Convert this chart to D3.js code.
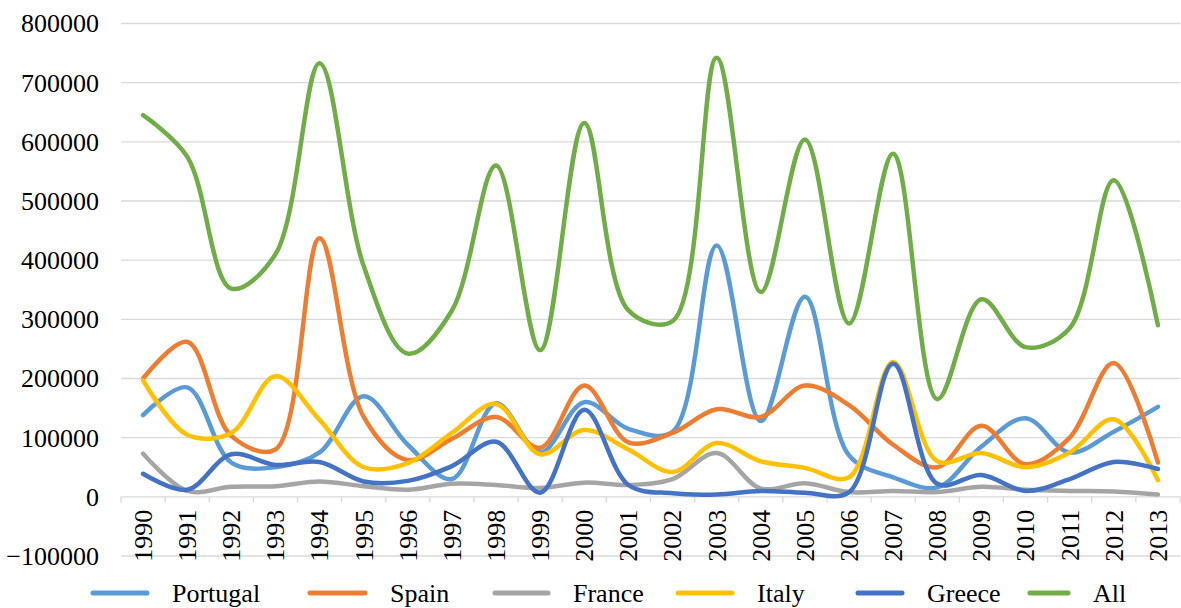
<!DOCTYPE html>
<html>
<head>
<meta charset="utf-8">
<script src="https://cdn.jsdelivr.net/npm/d3@7"></script>
<style>
    body { margin: 0; background: #fff; }
    svg text { font-family: "Liberation Serif", "Times New Roman", Times, serif; fill: #000; }
</style>
</head>
<body>
<div id="chart"></div>
<script>
// categories and series
const years = ["1990", "1991", "1992", "1993", "1994", "1995", "1996", "1997", "1998", "1999", "2000", "2001",
    "2002", "2003", "2004", "2005", "2006", "2007", "2008", "2009", "2010", "2011", "2012", "2013"];

const portugal = [138000, 185000, 58000, 50000, 75000, 170000, 88000, 30000, 158000, 75000, 160000, 115000,
    110000, 425000, 128000, 338000, 70000, 33000, 16000, 85000, 133000, 75000, 110000, 152000];
const spain = [200000, 262000, 103000, 80000, 437000, 135000, 62000, 98000, 135000, 83000, 188000, 92000,
    108000, 148000, 135000, 188000, 155000, 88000, 50000, 120000, 55000, 100000, 226000, 58000];
const france = [73000, 10000, 17000, 18000, 26000, 18000, 12000, 22000, 20000, 15000, 24000, 20000,
    30000, 74000, 14000, 23000, 8000, 10000, 8000, 17000, 12000, 10000, 9000, 4000];
const italy = [197000, 105000, 108000, 204000, 130000, 50000, 57000, 108000, 157000, 72000, 113000, 80000,
    42000, 91000, 60000, 49000, 33000, 228000, 60000, 74000, 50000, 75000, 131000, 28000];
const greece = [39000, 12000, 72000, 54000, 59000, 26000, 27000, 52000, 93000, 7000, 147000, 20000,
    6000, 4000, 10000, 7000, 8000, 225000, 22000, 37000, 10000, 30000, 59000, 47000];
const all = [645000, 575000, 352000, 410000, 733000, 390000, 242000, 315000, 560000, 248000, 632000, 315000,
    297000, 742000, 346000, 604000, 293000, 580000, 165000, 334000, 253000, 285000, 535000, 290000];

const seriesNames = ["Portugal", "Spain", "France", "Italy", "Greece", "All"];
const seriesValues = [portugal, spain, france, italy, greece, all];
const seriesColors = ["#5B9BD5", "#ED7D31", "#A5A5A5", "#FFC000", "#4472C4", "#70AD47"];
const yTicks = [-100000, 0, 100000, 200000, 300000, 400000, 500000, 600000, 700000, 800000];

// layout
const W = 1181, H = 608;
const plot = {left: 121, right: 1180, top: 23.5, bottom: 556};
const legendX = [93, 310, 495, 678, 858, 1030];
const legendLen = [54, 55, 53, 54, 44, 38];
const legendY = 593;
const serif = "'Liberation Serif', 'Times New Roman', Times, serif";

const svg = d3.select("#chart").append("svg")
    .attr("width", W)
    .attr("height", H)
    .attr("font-family", serif);

const x = d3.scaleBand().domain(years).range([plot.left, plot.right]).padding(0);
const y = d3.scaleLinear().domain([-100000, 800000]).range([plot.bottom, plot.top]);

// horizontal gridlines
svg.append("g")
    .selectAll("line")
    .data(yTicks.filter(d => d !== 0))
    .enter().append("line")
    .attr("x1", plot.left)
    .attr("x2", plot.right)
    .attr("y1", d => y(d))
    .attr("y2", d => y(d))
    .attr("stroke", "#D9D9D9")
    .attr("stroke-width", 1.3);

// y axis labels
svg.append("g")
    .selectAll("text")
    .data(yTicks)
    .enter().append("text")
    .attr("x", 99)
    .attr("y", d => y(d))
    .attr("dy", "0.34em")
    .attr("text-anchor", "end")
    .style("font-family", serif)
    .style("font-size", "26px")
    .text(d => d3.format("d")(d));

// x axis at zero with tick marks between categories
const xAxis = svg.append("g")
    .attr("transform", "translate(0," + y(0) + ")");
xAxis.append("line")
    .attr("x1", plot.left)
    .attr("x2", plot.right)
    .attr("stroke", "#D9D9D9")
    .attr("stroke-width", 1.3);
xAxis.selectAll(".tick")
    .data(years.concat(["end"]))
    .enter().append("line")
    .attr("class", "tick")
    .attr("x1", (d, i) => plot.left + i * x.bandwidth())
    .attr("x2", (d, i) => plot.left + i * x.bandwidth())
    .attr("y1", 0)
    .attr("y2", 6)
    .attr("stroke", "#D9D9D9")
    .attr("stroke-width", 1.3);
xAxis.selectAll(".label")
    .data(years)
    .enter().append("text")
    .attr("class", "label")
    .attr("transform", d => "translate(" + (x(d) + x.bandwidth() / 2) + ",13) rotate(-90)")
    .attr("dy", "0.34em")
    .attr("text-anchor", "end")
    .style("font-family", serif)
    .style("font-size", "26px")
    .text(d => d);

// series lines
const line = d3.line()
    .x((d, i) => x(years[i]) + x.bandwidth() / 2)
    .y(d => y(d))
    .curve(d3.curveCatmullRom.alpha(0.5));

svg.append("g")
    .selectAll("path")
    .data(seriesValues)
    .enter().append("path")
    .attr("d", d => line(d))
    .attr("fill", "none")
    .attr("stroke", (d, i) => seriesColors[i])
    .attr("stroke-width", 4.5)
    .attr("stroke-linecap", "round")
    .attr("stroke-linejoin", "round");

// legend
const legend = svg.append("g")
    .selectAll("g")
    .data(seriesNames)
    .enter().append("g");
legend.append("line")
    .attr("x1", (d, i) => legendX[i])
    .attr("x2", (d, i) => legendX[i] + legendLen[i])
    .attr("y1", legendY)
    .attr("y2", legendY)
    .attr("stroke", (d, i) => seriesColors[i])
    .attr("stroke-width", 5)
    .attr("stroke-linecap", "round");
legend.append("text")
    .attr("x", (d, i) => legendX[i] + legendLen[i] + 25)
    .attr("y", 602)
    .style("font-family", serif)
    .style("font-size", "26px")
    .text(d => d);
</script>
</body>
</html>
